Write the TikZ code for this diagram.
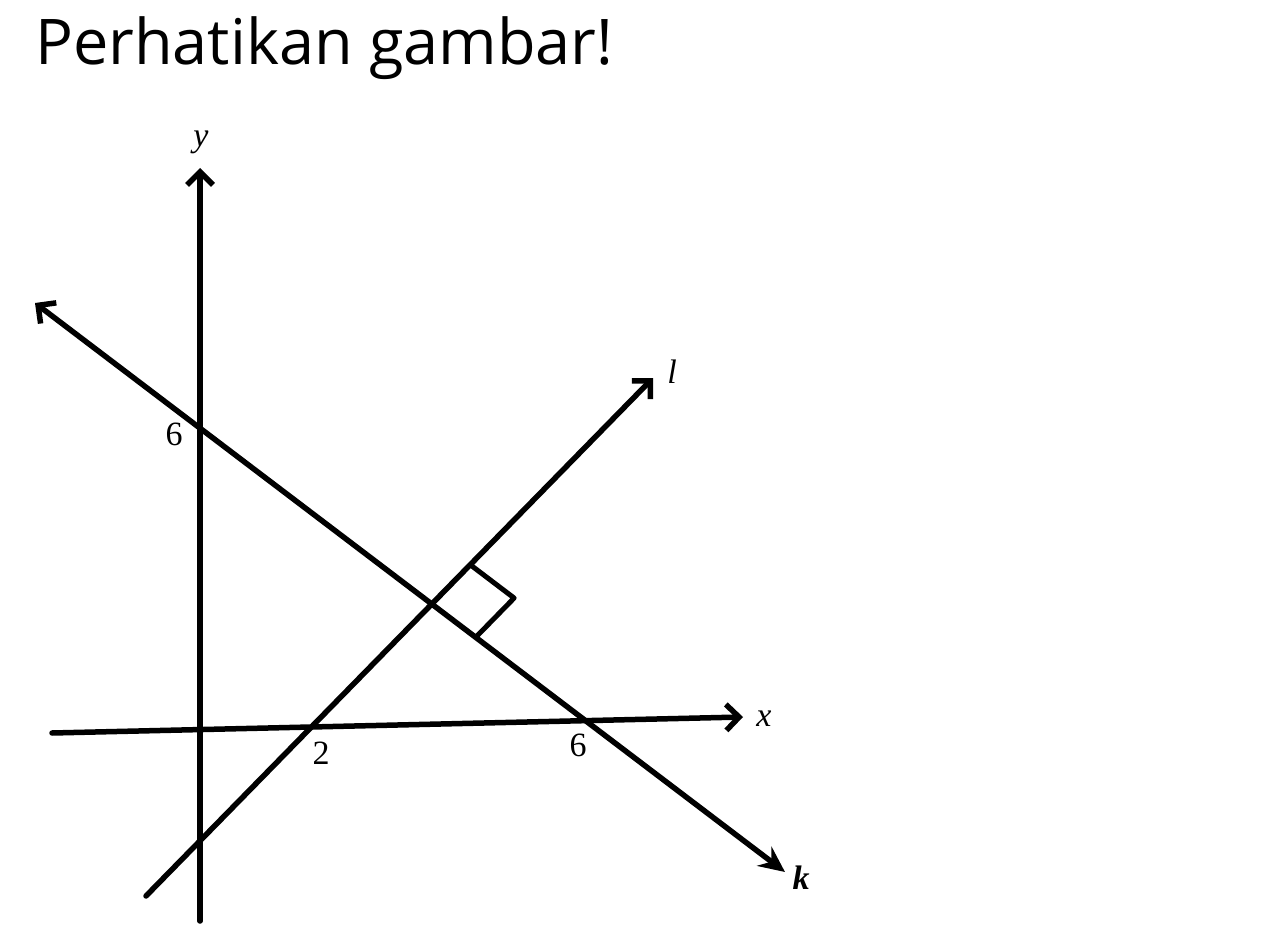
\documentclass[tikz,border=0pt]{standalone}
\usepackage{fontspec}
\setmainfont{Liberation Serif}
\newfontfamily\titlefont{Open Sans}
\usetikzlibrary{arrows.meta,calc}
\begin{document}
\begin{tikzpicture}[x=1pt,y=-1pt,
  axis/.style={line width=5.5pt, line cap=round},
  barb/.style={-{Straight Barb[length=13pt,width=26pt]}},
  lab/.style={font=\fontsize{34}{36}\selectfont, inner sep=0pt},
  ilab/.style={font=\itshape\fontsize{34}{36}\selectfont, inner sep=0pt}]
\useasboundingbox (0,0) rectangle (1280,933);
\node[anchor=base west, inner sep=0pt, font=\titlefont\fontsize{63}{70}\selectfont] (title) at (35,65) {Perhatikan gambar!};
% points
\coordinate (yb) at (200,921);
\coordinate (yt) at (200,168);
\coordinate (xl) at (52,733);
\coordinate (xr) at (743,717);
\coordinate (k1) at (35,303);
\coordinate (k2) at (785,872);
\coordinate (l1) at (146,896);
\coordinate (l2) at (653,378);
\coordinate (P) at (intersection of k1--k2 and l1--l2);
% axes
\draw[axis, barb] (yb) -- (yt);
\draw[axis, barb] (xl) -- (xr);
% lines
\draw[axis, {Straight Barb[length=13pt,width=26pt]}-{Stealth[length=26pt,width=24pt,inset=9pt]}] (k1) -- (k2);
\draw[axis, barb] (l1) -- (l2);
% right angle marker
\coordinate (ml) at ($(P)!55pt!(l2)$);
\coordinate (mk) at ($(P)!55pt!(k2)$);
\coordinate (mc) at ($(ml)+(mk)-(P)$);
\draw[line width=5pt, line join=round] (ml) -- (mc) -- (mk);
% labels
\node[ilab] (ylab) at (201,142) {y};
\node[ilab] (xlab) at (764,719) {x};
\node[ilab] (llab) at (672,372) {l};
\node[ilab,font=\bfseries\itshape\fontsize{34}{36}\selectfont] (klab) at (801,878) {k};
\node[lab] (six1) at (174,434) {6};
\node[lab] (two) at (321,753) {2};
\node[lab] (six2) at (578,745) {6};
\end{tikzpicture}
\end{document}
